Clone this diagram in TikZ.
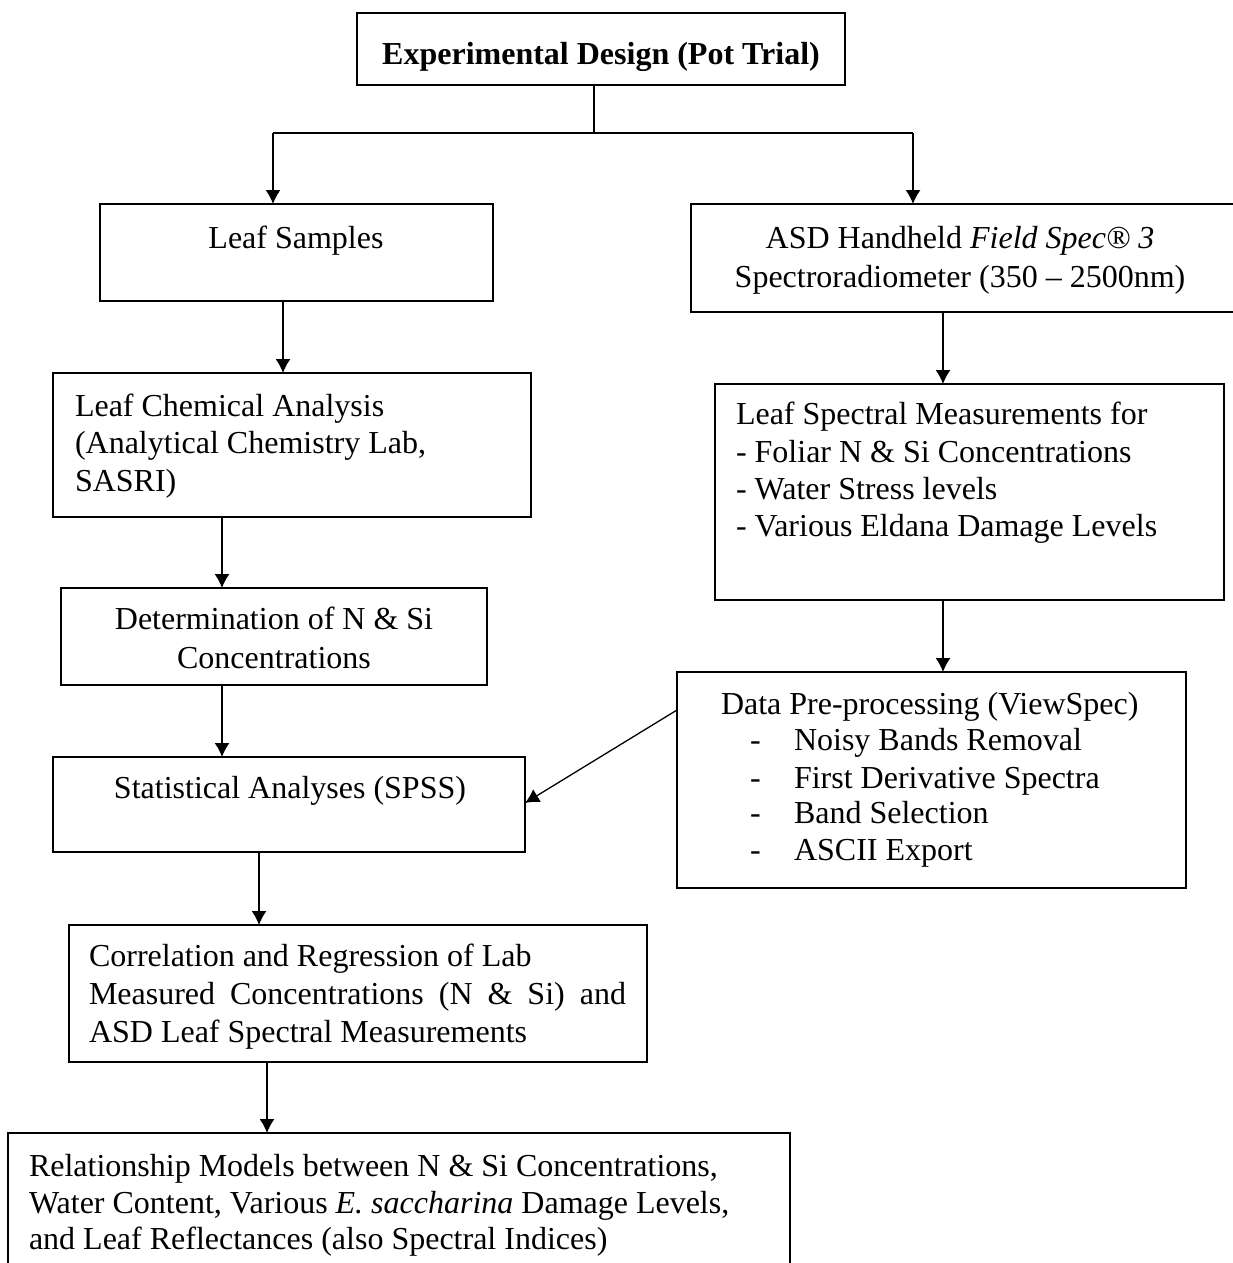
\documentclass[tikz,border=0pt]{standalone}
\usepackage{fontspec}
\setmainfont{Liberation Serif}
\usetikzlibrary{arrows.meta}
\begin{document}
\begin{tikzpicture}[x=1pt,y=-1pt,
  box/.style={draw, line width=1.8pt, inner sep=0pt, outer sep=0pt, anchor=north west},
  txt/.style={inner sep=0pt, outer sep=0pt, font=\fontsize{32}{37}\selectfont},
  arr/.style={line width=1.3pt, -{Latex[length=14pt,width=15pt]}},
  ln/.style={line width=1.3pt}]
\useasboundingbox (0,0) rectangle (1232,1263);
\fill[white] (0,0) rectangle (1232,1263);
% boxes
\node[box, minimum width=488pt, minimum height=72pt] (top) at (357,13) {};
\node[box, minimum width=393pt, minimum height=97pt] (leaf) at (100,204) {};
\node[box, minimum width=552pt, minimum height=108pt] (asd) at (691,204) {};
\node[box, minimum width=478pt, minimum height=144pt] (chem) at (53,373) {};
\node[box, minimum width=426pt, minimum height=97pt] (det) at (61,588) {};
\node[box, minimum width=472pt, minimum height=95pt] (stat) at (53,757) {};
\node[box, minimum width=578pt, minimum height=137pt] (corr) at (69,925) {};
\node[box, minimum width=782pt, minimum height=145pt] (rel) at (8,1133) {};
\node[box, minimum width=509pt, minimum height=216pt] (spec) at (715,384) {};
\node[box, minimum width=509pt, minimum height=216pt] (data) at (677,672) {};
% texts
\node[txt, anchor=base] (ttop) at (601,64) {\textbf{Experimental Design (Pot Trial)}};
\node[txt, anchor=base] (tleaf) at (296,248) {Leaf Samples};
\node[txt, anchor=base] (tasd1) at (960,248) {ASD Handheld \textit{Field Spec® 3}};
\node[txt, anchor=base] (tasd2) at (960,287) {Spectroradiometer (350 – 2500nm)};
\node[txt, anchor=base west] (tchem1) at (75,416) {Leaf Chemical Analysis};
\node[txt, anchor=base west] (tchem2) at (75,453) {(Analytical Chemistry Lab,};
\node[txt, anchor=base west] (tchem3) at (75,491) {SASRI)};
\node[txt, anchor=base] (tdet1) at (274,629) {Determination of N \& Si};
\node[txt, anchor=base] (tdet2) at (274,668) {Concentrations};
\node[txt, anchor=base] (tstat) at (290,798) {Statistical Analyses (SPSS)};
\node[txt, anchor=base west] (tcorr1) at (89,966) {Correlation and Regression of Lab};
\node[txt, anchor=base west] (tcorr2) at (89,1004) {\makebox[537pt][s]{Measured Concentrations (N \& Si) and}};
\node[txt, anchor=base west] (tcorr3) at (89,1042) {ASD Leaf Spectral Measurements};
\node[txt, anchor=base west] (trel1) at (29,1176) {Relationship Models between N \& Si Concentrations,};
\node[txt, anchor=base west] (trel2) at (29,1213) {Water Content, Various \textit{E. saccharina} Damage Levels,};
\node[txt, anchor=base west] (trel3) at (29,1249) {and Leaf Reflectances (also Spectral Indices)};
\node[txt, anchor=base west] (tspec1) at (736,424) {Leaf Spectral Measurements for};
\node[txt, anchor=base west] (tspec2) at (736,462) {- Foliar N \& Si Concentrations};
\node[txt, anchor=base west] (tspec3) at (736,499) {- Water Stress levels};
\node[txt, anchor=base west] (tspec4) at (736,536) {- Various Eldana Damage Levels};
\node[txt, anchor=base west] (tdata0) at (721,714) {Data Pre-processing (ViewSpec)};
\node[txt, anchor=base west] (dd1) at (750,750) {-};
\node[txt, anchor=base west] (tdata1) at (794,750) {Noisy Bands Removal};
\node[txt, anchor=base west] (dd2) at (750,788) {-};
\node[txt, anchor=base west] (tdata2) at (794,788) {First Derivative Spectra};
\node[txt, anchor=base west] (dd3) at (750,823) {-};
\node[txt, anchor=base west] (tdata3) at (794,823) {Band Selection};
\node[txt, anchor=base west] (dd4) at (750,860) {-};
\node[txt, anchor=base west] (tdata4) at (794,860) {ASCII Export};
% connectors
\coordinate (split) at (594,133);
\draw[ln] (top.south -| split) -- (split);
\draw[ln] (split) -- ([xshift=173pt]leaf.north west |- split);
\draw[ln] (split) -- ([xshift=222pt]asd.north west |- split);
\draw[arr] ([xshift=173pt]leaf.north west |- split) -- ([xshift=173pt]leaf.north west);
\draw[arr] ([xshift=222pt]asd.north west |- split) -- ([xshift=222pt]asd.north west);
\draw[arr] ([xshift=183pt]leaf.south west) -- ([xshift=183pt]leaf.south west |- chem.north);
\draw[arr] ([xshift=169pt]chem.south west) -- ([xshift=169pt]chem.south west |- det.north);
\draw[arr] ([xshift=161pt]det.south west) -- ([xshift=161pt]det.south west |- stat.north);
\draw[arr] ([xshift=206pt]stat.south west) -- ([xshift=206pt]stat.south west |- corr.north);
\draw[arr] ([xshift=198pt]corr.south west) -- ([xshift=198pt]corr.south west |- rel.north);
\draw[arr] ([xshift=252pt]asd.south west) -- ([xshift=252pt]asd.south west |- spec.north);
\draw[arr] ([xshift=228pt]spec.south west) -- ([xshift=228pt]spec.south west |- data.north);
\draw[arr] ([yshift=-38pt]data.north west) -- ([yshift=-46pt]stat.north east);
\end{tikzpicture}
\end{document}
